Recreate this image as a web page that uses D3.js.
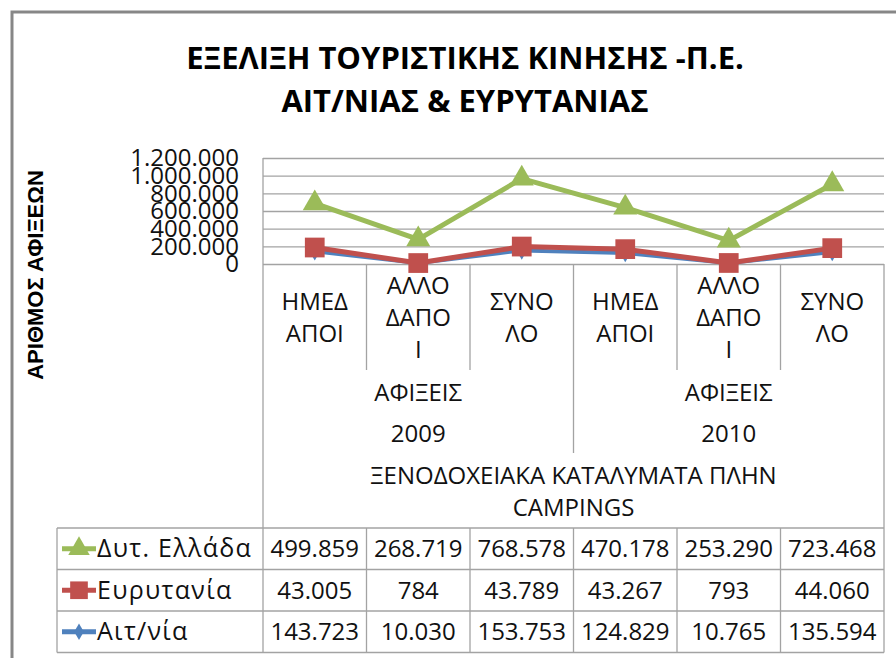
<!DOCTYPE html>
<html>
<head>
<meta charset="utf-8">
<script src="https://cdn.jsdelivr.net/npm/d3@7"></script>
<style>
  body { margin: 0; background: #fff; }
  svg { display: block; }
</style>
</head>
<body>
<svg id="chart"></svg>
<script>
// chart data
var titleLines = ["ΕΞΕΛΙΞΗ ΤΟΥΡΙΣΤΙΚΗΣ ΚΙΝΗΣΗΣ -Π.Ε.", "ΑΙΤ/ΝΙΑΣ & ΕΥΡΥΤΑΝΙΑΣ"];
var yTitle = "ΑΡΙΘΜΟΣ ΑΦΙΞΕΩΝ";
var categoryLines = [["ΗΜΕΔ", "ΑΠΟΙ"], ["ΑΛΛΟ", "ΔΑΠΟ", "Ι"], ["ΣΥΝΟ", "ΛΟ"],
                     ["ΗΜΕΔ", "ΑΠΟΙ"], ["ΑΛΛΟ", "ΔΑΠΟ", "Ι"], ["ΣΥΝΟ", "ΛΟ"]];
var groupLabel = "ΑΦΙΞΕΙΣ";
var years = ["2009", "2010"];
var topLabel = ["ΞΕΝΟΔΟΧΕΙΑΚΑ ΚΑΤΑΛΥΜΑΤΑ ΠΛΗΝ", "CAMPINGS"];
var yTicks = [0, 200000, 400000, 600000, 800000, 1000000, 1200000];

var seriesNames = ["Δυτ. Ελλάδα", "Ευρυτανία", "Αιτ/νία"];
var dytEllada = [499859, 268719, 768578, 470178, 253290, 723468];
var evrytania = [43005, 784, 43789, 43267, 793, 44060];
var aitnia = [143723, 10030, 153753, 124829, 10765, 135594];

var colors = { "Δυτ. Ελλάδα": "#9bbb59", "Ευρυτανία": "#c0504d", "Αιτ/νία": "#4f81bd" };
var symbols = { "Δυτ. Ελλάδα": d3.symbolTriangle, "Ευρυτανία": d3.symbolSquare, "Αιτ/νία": d3.symbolDiamond };
var symbolSize = { "Δυτ. Ελλάδα": 250, "Ευρυτανία": 390, "Αιτ/νία": 100 };

var width = 896, height = 658;
var plotLeft = 263, plotRight = 884, plotTop = 158, plotBottom = 264;
var tableTop = 528, rowH = 41.5, tableLeft = 57;
var gridColor = "#a3a3a3";
var font = "'Open Sans', sans-serif";

var nf = d3.formatLocale({ decimal: ",", thousands: ".", grouping: [3], currency: ["", "€"] }).format(",d");

var svg = d3.select("#chart")
    .attr("width", width)
    .attr("height", height);

// outer frame
svg.append("rect")
    .attr("x", 12).attr("y", 12)
    .attr("width", 900).attr("height", 700)
    .attr("fill", "none")
    .attr("stroke", "#878787")
    .attr("stroke-width", 3);

// title
svg.append("g").selectAll("text")
    .data(titleLines)
    .join("text")
    .attr("x", 465)
    .attr("y", (d, i) => 69 + i * 43)
    .attr("text-anchor", "middle")
    .style("font-family", font)
    .style("font-weight", "bold")
    .style("font-size", "31px")
    .text(d => d);

// scales
var xScale = d3.scaleBand().domain(d3.range(categoryLines.length)).range([plotLeft, plotRight]);
var yScale = d3.scaleLinear().domain([0, 1200000]).range([plotBottom, plotTop]);
var bx = i => i < categoryLines.length ? xScale(i) : plotRight;
var cx = i => xScale(i) + xScale.bandwidth() / 2;

// gridlines
var grid = svg.append("g")
    .attr("transform", "translate(" + plotLeft + ",0)")
    .call(d3.axisLeft(yScale).tickValues(yTicks).tickSize(-(plotRight - plotLeft)).tickFormat(""));
grid.select(".domain").remove();
grid.selectAll("line").attr("stroke", gridColor).attr("stroke-width", 1.3);

// y tick labels
var gy = svg.append("g")
    .attr("transform", "translate(" + plotLeft + ",0)")
    .call(d3.axisLeft(yScale).tickValues(yTicks).tickSize(0).tickPadding(24).tickFormat(nf));
gy.select(".domain").remove();
gy.selectAll("text")
    .style("font-family", font)
    .style("font-size", "24px")
    .attr("fill", "#111");

// y axis title
svg.append("text")
    .attr("transform", "translate(43,275) rotate(-90)")
    .attr("text-anchor", "middle")
    .style("font-family", "'Liberation Sans', Arial, sans-serif")
    .style("font-weight", "bold")
    .style("font-size", "22px")
    .text(yTitle);

// category axis frame lines
var lines = svg.append("g").attr("stroke", gridColor).attr("stroke-width", 1.3);
var tableBottom = tableTop + 3 * rowH;
lines.append("line").attr("x1", plotLeft).attr("x2", plotLeft).attr("y1", plotTop).attr("y2", tableBottom);
lines.append("line").attr("x1", plotRight).attr("x2", plotRight).attr("y1", plotBottom).attr("y2", tableBottom);
d3.range(1, categoryLines.length).forEach(function(i) {
    var yEnd = i === 3 ? 453 : 370;
    lines.append("line").attr("x1", bx(i)).attr("x2", bx(i)).attr("y1", plotBottom).attr("y2", yEnd);
    lines.append("line").attr("x1", bx(i)).attr("x2", bx(i)).attr("y1", tableTop).attr("y2", tableBottom);
});
d3.range(4).forEach(function(r) {
    lines.append("line").attr("x1", tableLeft).attr("x2", plotRight)
        .attr("y1", tableTop + r * rowH).attr("y2", tableTop + r * rowH);
});
lines.append("line").attr("x1", tableLeft).attr("x2", tableLeft).attr("y1", tableTop).attr("y2", tableBottom);

// category labels
var textStyle = function(sel) {
    sel.style("font-family", font).style("font-size", "24px").attr("fill", "#111").attr("text-anchor", "middle");
};
categoryLines.forEach(function(ls, i) {
    svg.append("g").selectAll("text")
        .data(ls)
        .join("text")
        .attr("x", cx(i))
        .attr("y", (d, k) => 317 - (ls.length - 1) * 16 + k * 32 + 8.5)
        .call(textStyle)
        .text(d => d);
});
years.forEach(function(yr, g) {
    var gx = (bx(g * 3) + bx(g * 3 + 3)) / 2;
    svg.append("text").attr("x", gx).attr("y", 400.5).call(textStyle).text(groupLabel);
    svg.append("text").attr("x", gx).attr("y", 441.5).call(textStyle).text(yr);
});
svg.append("g").selectAll("text")
    .data(topLabel)
    .join("text")
    .attr("x", (plotLeft + plotRight) / 2)
    .attr("y", (d, k) => 483.5 + k * 32)
    .call(textStyle)
    .text(d => d);

// stacked lines
var rows = d3.range(categoryLines.length).map(i => ({
    "Αιτ/νία": aitnia[i], "Ευρυτανία": evrytania[i], "Δυτ. Ελλάδα": dytEllada[i]
}));
var stacked = d3.stack().keys(["Αιτ/νία", "Ευρυτανία", "Δυτ. Ελλάδα"])(rows);
var lineGen = d3.line().x((d, i) => cx(i)).y(d => yScale(d[1]));

stacked.forEach(function(s) {
    var g = svg.append("g");
    g.append("path")
        .datum(s)
        .attr("fill", "none")
        .attr("stroke", colors[s.key])
        .attr("stroke-width", s.key === "Αιτ/νία" ? 4 : 5)
        .attr("stroke-linejoin", "round")
        .attr("d", lineGen);
    g.selectAll("path.mark")
        .data(s)
        .join("path")
        .attr("class", "mark")
        .attr("transform", (d, i) => "translate(" + cx(i) + "," + yScale(d[1]) + ")")
        .attr("d", d3.symbol().type(symbols[s.key]).size(symbolSize[s.key]))
        .attr("fill", colors[s.key]);
});

// data table
var seriesData = { "Δυτ. Ελλάδα": dytEllada, "Ευρυτανία": evrytania, "Αιτ/νία": aitnia };
seriesNames.forEach(function(name, r) {
    var cy = tableTop + r * rowH + rowH / 2;
    var g = svg.append("g");
    g.append("line")
        .attr("x1", 62).attr("x2", 96).attr("y1", cy).attr("y2", cy)
        .attr("stroke", colors[name]).attr("stroke-width", 5);
    g.append("path")
        .attr("transform", "translate(79," + cy + ")")
        .attr("d", d3.symbol().type(symbols[name]).size(symbolSize[name] * 0.8))
        .attr("fill", colors[name]);
    g.append("text")
        .attr("x", 97).attr("y", cy + 8.5)
        .style("font-family", font).style("font-size", "25px")
        .style("letter-spacing", "1.3px").attr("fill", "#111")
        .text(name);
    g.selectAll("text.val")
        .data(seriesData[name])
        .join("text")
        .attr("class", "val")
        .attr("x", (d, i) => cx(i))
        .attr("y", cy + 8.5)
        .call(textStyle)
        .text(d => nf(d));
});
</script>
</body>
</html>
